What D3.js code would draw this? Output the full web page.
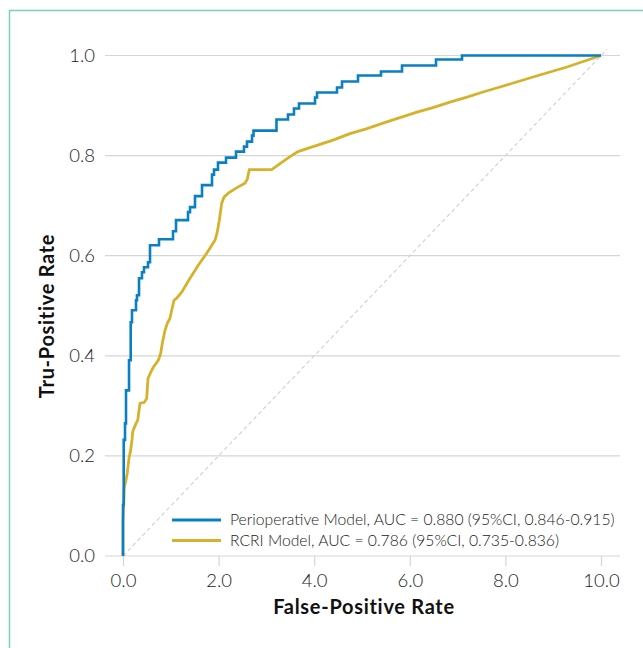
<!DOCTYPE html>
<html><head><meta charset="utf-8">
<script src="https://cdn.jsdelivr.net/npm/d3@7"></script>
<style>
html,body{margin:0;padding:0;background:#fff;}
svg{display:block;font-family:Lato,"Noto Sans",sans-serif;}
</style></head>
<body>
<svg id="chart" width="643" height="648"></svg>
<script>
// ---- data ----
const xTicks = [0, 2, 4, 6, 8, 10];
const yTicks = [0, 0.2, 0.4, 0.6, 0.8, 1.0];
const seriesNames = [
  "Perioperative Model, AUC = 0.880 (95%CI, 0.846-0.915)",
  "RCRI Model, AUC = 0.786 (95%CI, 0.735-0.836)"
];
const periFPR = [0,0,0.015,0.042,0.063,0.126,0.161,0.188,0.272,0.293,0.335,0.397,0.439,0.523,0.565,0.753,1.046,1.109,1.360,1.402,1.506,1.653,1.862,1.904,1.987,2.155,2.364,2.531,2.594,2.699,2.730,3.211,3.452,3.577,3.682,4.017,4.059,4.477,4.582,4.916,5.397,5.837,6.548,7.092,10];
const periTPR = [0,0.102,0.232,0.265,0.331,0.391,0.467,0.491,0.511,0.521,0.555,0.567,0.577,0.587,0.621,0.633,0.649,0.671,0.687,0.697,0.719,0.741,0.762,0.772,0.786,0.796,0.808,0.818,0.828,0.840,0.850,0.872,0.882,0.894,0.904,0.916,0.926,0.936,0.948,0.960,0.968,0.980,0.992,1.0,1.0];
const rcriFPR = [0,0,0.027,0.063,0.090,0.126,0.161,0.188,0.203,0.230,0.272,0.308,0.335,0.356,0.446,0.496,0.523,0.579,0.634,0.738,0.789,0.822,0.879,0.927,0.983,1.019,1.067,1.123,1.228,1.402,1.575,1.751,1.925,1.967,2.015,2.065,2.113,2.203,2.364,2.552,2.600,2.642,3.111,3.285,3.494,3.661,3.912,4.393,4.749,5.105,5.439,5.795,6.151,6.485,6.841,7.197,7.531,7.887,8.577,9.289,10];
const rcriTPR = [0,0.068,0.136,0.152,0.166,0.196,0.212,0.232,0.248,0.255,0.265,0.271,0.291,0.305,0.307,0.315,0.355,0.367,0.377,0.391,0.405,0.425,0.451,0.465,0.475,0.491,0.511,0.515,0.527,0.555,0.581,0.605,0.631,0.645,0.671,0.705,0.717,0.725,0.735,0.745,0.753,0.772,0.772,0.784,0.798,0.808,0.816,0.831,0.844,0.854,0.865,0.876,0.887,0.896,0.907,0.917,0.927,0.937,0.957,0.977,1.0];
const colors = ["#0a7fc1", "#d6b22c"];

// ---- chart ----
const svg = d3.select("#chart");
const x = d3.scaleLinear().domain([0, 10]).range([123, 601]);
const y = d3.scaleLinear().domain([0, 1]).range([556, 55.5]);

// frame
svg.append("rect").attr("x", 9.5).attr("y", 10.5).attr("width", 700).attr("height", 700)
  .attr("fill", "none").attr("stroke", "#79d3b1").attr("stroke-width", 1.5);

// gridlines
svg.append("g").selectAll("line").data(yTicks).join("line")
  .attr("x1", 105).attr("x2", 620)
  .attr("y1", d => y(d)).attr("y2", d => y(d))
  .attr("stroke", "#d6d6d6").attr("stroke-width", 1.2);

// y labels
svg.append("g").selectAll("text").data(yTicks).join("text")
  .attr("x", 95).attr("y", d => y(d)).attr("dy", "0.35em")
  .attr("text-anchor", "end").attr("font-size", 18.5).attr("font-weight", 300)
  .attr("fill", "#222").text(d => d.toFixed(1));

// x axis ticks
const xg = svg.append("g").attr("transform", `translate(0,${y(0)})`)
  .call(d3.axisBottom(x).tickValues(xTicks).tickSize(10).tickPadding(8).tickFormat(d => d.toFixed(1)));
xg.select(".domain").remove();
xg.selectAll(".tick line").attr("stroke", "#d6d6d6").attr("stroke-width", 1.2);
xg.selectAll(".tick text").attr("font-size", 18.5).attr("font-weight", 300)
  .attr("fill", "#222").attr("font-family", "Lato,'Noto Sans',sans-serif");

// axis titles
svg.append("text").attr("x", 364).attr("y", 614).attr("text-anchor", "middle")
  .attr("font-size", 20).attr("font-weight", 700).attr("letter-spacing", 0.7)
  .attr("fill", "#111").text("False-Positive Rate");
svg.append("text").attr("transform", "translate(54,316) rotate(-90)").attr("text-anchor", "middle")
  .attr("font-size", 20).attr("font-weight", 700).attr("letter-spacing", 0.7)
  .attr("fill", "#111").text("Tru-Positive Rate");

// diagonal reference
svg.append("line").attr("x1", x(0)).attr("y1", y(0)).attr("x2", x(10.12)).attr("y2", y(1.012))
  .attr("stroke", "#cfcfcf").attr("stroke-width", 1.1).attr("stroke-dasharray", "4,3");

// curves
const peri = periFPR.map((v, i) => [v, periTPR[i]]);
const rcri = rcriFPR.map((v, i) => [v, rcriTPR[i]]);
svg.append("path").datum(rcri)
  .attr("d", d3.line().x(d => x(d[0])).y(d => y(d[1])).curve(d3.curveLinear))
  .attr("fill", "none").attr("stroke", colors[1]).attr("stroke-width", 2.8);
svg.append("path").datum(peri)
  .attr("d", d3.line().x(d => x(d[0])).y(d => y(d[1])).curve(d3.curveStepAfter))
  .attr("fill", "none").attr("stroke", colors[0]).attr("stroke-width", 2.6);

// legend
const lg = svg.append("g");
seriesNames.forEach((name, i) => {
  const ly = 520 + i * 20.5;
  lg.append("line").attr("x1", 172).attr("x2", 221).attr("y1", ly).attr("y2", ly)
    .attr("stroke", colors[i]).attr("stroke-width", 2.8);
  lg.append("text").attr("x", 230).attr("y", ly).attr("dy", "0.35em")
    .attr("font-size", 15.7).attr("font-weight", 300).attr("fill", "#222").text(name);
});
</script>
</body></html>
